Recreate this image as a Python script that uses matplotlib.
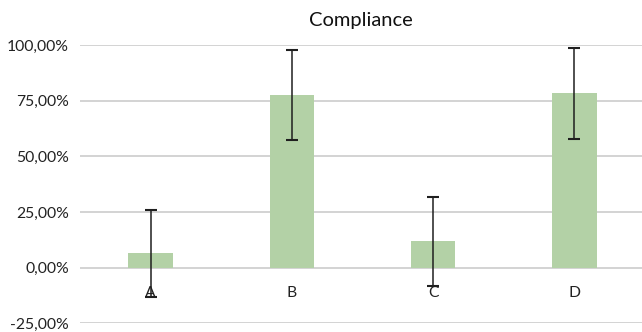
import matplotlib
matplotlib.use("Agg")
import matplotlib.pyplot as plt
from matplotlib.ticker import FuncFormatter, MultipleLocator

categories = ["A", "B", "C", "D"]
compliance = [0.064, 0.775, 0.118, 0.783]
error = [0.195, 0.201, 0.201, 0.203]

plt.rcParams["font.family"] = ["Lato", "DejaVu Sans"]

fig = plt.figure(figsize=(6.42, 3.32), dpi=100)
ax = fig.add_axes([0.1246, 0.026, 0.875, 0.8385])

x = range(len(categories))
ax.bar(x, compliance, width=0.315, color="#b3d1a6", zorder=2)
ax.errorbar(x, compliance, yerr=error, fmt="none", ecolor="#1f1f1f",
            elinewidth=1.1, capsize=4.0, capthick=1.5, zorder=4)

ax.set_ylim(-0.25, 1.0)
ax.set_xlim(-0.5, 3.477)
ax.yaxis.set_major_locator(MultipleLocator(0.25))
ax.yaxis.set_major_formatter(
    FuncFormatter(lambda v, _: f"{v * 100:.2f}".replace(".", ",") + "%"))
ax.grid(axis="y", color="#c8c8c8", linewidth=1.1, zorder=0)
ax.set_axisbelow(True)

ax.set_xticks(list(x))
ax.set_xticklabels(categories)
ax.spines["bottom"].set_position(("data", 0))
for s in ("top", "right", "left", "bottom"):
    ax.spines[s].set_visible(False)
ax.tick_params(axis="both", length=0, labelsize=11.3, colors="#222222")
ax.tick_params(axis="x", pad=13.5)
ax.tick_params(axis="y", pad=8)

ax.set_title("Compliance", fontsize=14.5, color="#111111", pad=14)

fig.savefig("out.png", dpi=100)
